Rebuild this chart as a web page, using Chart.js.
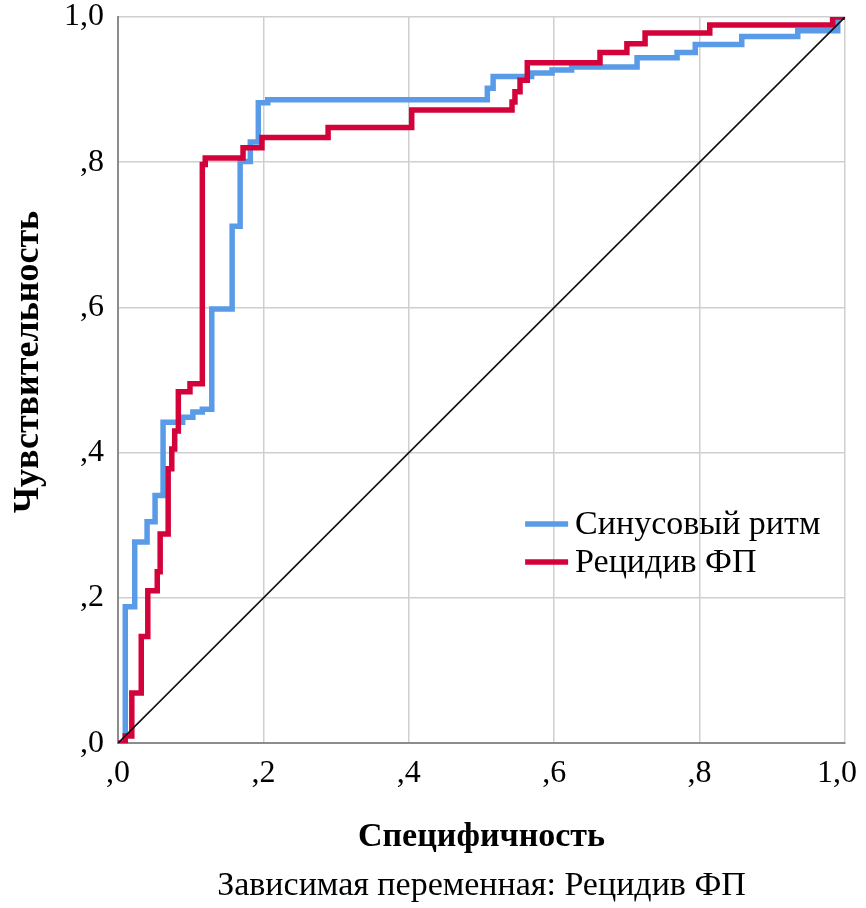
<!DOCTYPE html>
<html>
<head>
<meta charset="utf-8">
<script src="https://cdn.jsdelivr.net/npm/chart.js@4"></script>
<style>
  html, body { margin: 0; padding: 0; background: #fff; }
  #wrap { width: 866px; height: 908px; }
</style>
</head>
<body>
<div id="wrap"><canvas id="rocChart" width="866" height="908"></canvas></div>
<script>
// ROC curve data (1 - specificity on x, sensitivity on y)
const sinusX = [0, 0.010, 0.023, 0.040, 0.051, 0.062, 0.089, 0.103, 0.116, 0.129, 0.157, 0.168, 0.182, 0.193, 0.206,
                0.508, 0.516, 0.569, 0.597, 0.624, 0.714, 0.769, 0.794, 0.858, 0.935, 0.990, 1];
const sinusY = [0, 0.188, 0.277, 0.305, 0.341, 0.442, 0.449, 0.456, 0.460, 0.598, 0.712, 0.801, 0.828, 0.882, 0.886,
                0.902, 0.918, 0.923, 0.927, 0.931, 0.944, 0.951, 0.962, 0.973, 0.981, 1.0, 1];

const relapseX = [0, 0.010, 0.019, 0.032, 0.041, 0.054, 0.058, 0.069, 0.074, 0.078, 0.083, 0.099, 0.116, 0.120, 0.172,
                  0.198, 0.289, 0.404, 0.542, 0.546, 0.553, 0.563, 0.663, 0.700, 0.725, 0.814, 0.983, 1];
const relapseY = [0, 0.010, 0.069, 0.147, 0.210, 0.236, 0.288, 0.378, 0.405, 0.430, 0.484, 0.495, 0.797, 0.806, 0.820,
                  0.834, 0.848, 0.872, 0.883, 0.897, 0.913, 0.937, 0.951, 0.963, 0.978, 0.989, 1.0, 1];

const refX = [0, 1];
const refY = [0, 1];

const tickValues = [0, 0.2, 0.4, 0.6, 0.8, 1.0];

const toPoints = (xs, ys) => xs.map((x, i) => ({ x: x, y: ys[i] }));
const fmtTick = v => v.toFixed(1).replace('0.', ',').replace('.', ',');

const serif = '"Liberation Serif", "Times New Roman", serif';

// let the tick labels hang outside the plot area, like the original
const noOverflowPad = s => {
    s.paddingTop = 0;
    s.paddingBottom = 0;
    s.paddingLeft = 0;
    s.paddingRight = 0;
};

// legend drawn inside the plot area
const innerLegend = {
    id: 'innerLegend',
    afterDatasetsDraw(chart) {
        const ctx = chart.ctx;
        const area = chart.chartArea;
        const items = chart.data.datasets.filter(d => d.label);
        const x0 = area.left + (area.right - area.left) * 0.560;
        let y = area.top + (area.bottom - area.top) * 0.698;
        ctx.save();
        ctx.font = '34px ' + serif;
        ctx.textBaseline = 'middle';
        items.forEach(d => {
            ctx.strokeStyle = d.borderColor;
            ctx.lineWidth = 5.5;
            ctx.beginPath();
            ctx.moveTo(x0, y);
            ctx.lineTo(x0 + 43, y);
            ctx.stroke();
            ctx.fillStyle = '#000';
            ctx.fillText(d.label, x0 + 50, y + 1);
            y += 38;
        });
        ctx.restore();
    }
};

const ctx = document.getElementById('rocChart').getContext('2d');
const rocChart = new Chart(ctx, {
    type: 'line',
    data: {
        datasets: [
            {
                label: 'Синусовый ритм',
                data: toPoints(sinusX, sinusY),
                borderColor: '#5a9be8',
                borderWidth: 5.5,
                stepped: true,
                pointRadius: 0,
                fill: false,
                order: 3
            },
            {
                label: 'Рецидив ФП',
                data: toPoints(relapseX, relapseY),
                borderColor: '#d4023a',
                borderWidth: 5.5,
                stepped: true,
                pointRadius: 0,
                fill: false,
                order: 2
            },
            {
                label: '',
                data: toPoints(refX, refY),
                borderColor: '#111',
                borderWidth: 1.6,
                pointRadius: 0,
                fill: false,
                order: 1
            }
        ]
    },
    options: {
        responsive: false,
        animation: false,
        layout: { padding: { left: 0, right: 21, top: 17, bottom: 0 } },
        plugins: {
            legend: { display: false },
            tooltip: { enabled: false },
            title: {
                display: true,
                position: 'bottom',
                fullSize: false,
                text: 'Зависимая переменная: Рецидив ФП',
                color: '#000',
                font: { family: serif, size: 34, weight: 'normal' },
                padding: { top: 0, bottom: 2 }
            }
        },
        scales: {
            x: {
                type: 'linear',
                min: 0,
                max: 1,
                afterBuildTicks: s => { s.ticks = tickValues.map(v => ({ value: v })); },
                afterFit: s => { s.height = 122; noOverflowPad(s); },
                ticks: {
                    color: '#000',
                    font: { family: serif, size: 32 },
                    padding: 11,
                    // last label is pulled in from the edge a little, as in the original
                    callback: v => v === 1 ? fmtTick(v) + '\u00A0\u00A0' : fmtTick(v)
                },
                grid: { color: '#cfcfcf', lineWidth: 1.5, drawTicks: false },
                border: { color: '#8c8c8c', width: 2 },
                title: {
                    display: true,
                    text: 'Специфичность',
                    color: '#000',
                    font: { family: serif, size: 34, weight: 'bold' },
                    padding: { top: 0, bottom: 8 }
                }
            },
            y: {
                type: 'linear',
                min: 0,
                max: 1,
                afterBuildTicks: s => { s.ticks = tickValues.map(v => ({ value: v })); },
                afterFit: s => { s.width = 118; noOverflowPad(s); },
                ticks: {
                    color: '#000',
                    font: { family: serif, size: 32 },
                    padding: 14,
                    callback: v => fmtTick(v)
                },
                grid: { color: '#cfcfcf', lineWidth: 1.5, drawTicks: false },
                border: { color: '#8c8c8c', width: 2 },
                title: {
                    display: true,
                    text: '\u00A0\u00A0\u00A0\u00A0Чувствительность',
                    color: '#000',
                    font: { family: serif, size: 36, weight: 'bold' },
                    padding: { top: 7, bottom: 0 }
                }
            }
        }
    },
    plugins: [innerLegend]
});
</script>
</body>
</html>
